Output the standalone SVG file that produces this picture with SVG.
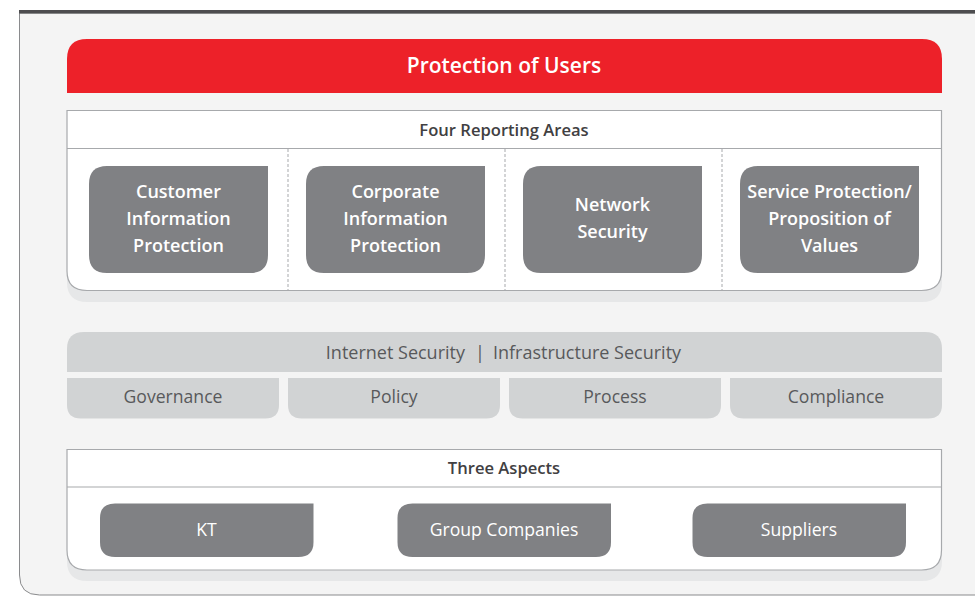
<svg xmlns="http://www.w3.org/2000/svg" width="975" height="596" viewBox="0 0 975 596">
<defs>
<style>
.panel{fill:#f4f4f4;stroke:#8a8b8d;stroke-width:1}
.box{fill:#ffffff;stroke:#a7a9ac;stroke-width:1.2}
.shadow{fill:#e6e7e8}
.div{stroke:#a7a9ac;stroke-width:1;stroke-dasharray:3 2}
.node{fill:#808184}
.band{fill:#d1d3d4}
.nt{font-family:"Open Sans","Liberation Sans",sans-serif;font-size:18px;font-weight:600;fill:#ffffff;text-anchor:middle}
.ht{font-family:"Open Sans","Liberation Sans",sans-serif;font-size:16.6px;font-weight:600;fill:#414042;text-anchor:middle}
.bt{font-family:"Open Sans","Liberation Sans",sans-serif;font-size:17.6px;font-weight:400;fill:#58595b;text-anchor:middle}
.it{font-family:"Open Sans","Liberation Sans",sans-serif;font-size:18px;font-weight:400;fill:#58595b}
.wt{font-family:"Open Sans","Liberation Sans",sans-serif;font-size:17.6px;font-weight:400;fill:#ffffff;text-anchor:middle}
</style>
</defs>
<rect x="0" y="0" width="975" height="596" fill="#ffffff"/>
<g id="panel">
<path class="panel" d="M980 13 L19.5 13 L19.5 575 Q19.5 595 39.5 595 L980 595"/>
<rect x="19" y="10" width="956" height="3.5" fill="#4d4d4f"/>
</g>
<g id="title">
<path d="M67 93 L67 59 Q67 39 87 39 L922 39 Q942 39 942 59 L942 93 Z" fill="#ed2129"/>
<text x="504" y="73" font-family="Open Sans, Liberation Sans, sans-serif" font-size="21" font-weight="600" fill="#ffffff" text-anchor="middle">Protection of Users</text>
</g>
<g id="four-areas">
<path class="shadow" d="M67 120 L942 120 L942 282 Q942 302 922 302 L87 302 Q67 302 67 282 Z"/>
<path class="box" d="M67 110.5 L941.5 110.5 L941.5 271 Q941.5 290.5 921.5 290.5 L87 290.5 Q67 290.5 67 271 Z"/>
<line x1="67" y1="148.5" x2="941.5" y2="148.5" stroke="#a7a9ac" stroke-width="1.2"/>
<text class="ht" x="504" y="136">Four Reporting Areas</text>
</g>
<g id="connectors">
<line class="div" x1="288" y1="149" x2="288" y2="290"/>
<line class="div" x1="505" y1="149" x2="505" y2="290"/>
<line class="div" x1="722" y1="149" x2="722" y2="290"/>
<line class="div" x1="350" y1="487" x2="350" y2="570"/>
<line class="div" x1="658.5" y1="487" x2="658.5" y2="570"/>
</g>
<g id="customer-info">
<path class="node" d="M89 184 Q89 166 107 166 L268 166 L268 255 Q268 273 250 273 L107 273 Q89 273 89 255 Z"/>
<text class="nt" x="178.5" y="198">Customer</text>
<text class="nt" x="178.5" y="225">Information</text>
<text class="nt" x="178.5" y="252">Protection</text>
</g>
<g id="corporate-info">
<path class="node" d="M306 184 Q306 166 324 166 L485 166 L485 255 Q485 273 467 273 L324 273 Q306 273 306 255 Z"/>
<text class="nt" x="395.5" y="198">Corporate</text>
<text class="nt" x="395.5" y="225">Information</text>
<text class="nt" x="395.5" y="252">Protection</text>
</g>
<g id="network-security">
<path class="node" d="M523 184 Q523 166 541 166 L702 166 L702 255 Q702 273 684 273 L541 273 Q523 273 523 255 Z"/>
<text class="nt" x="612.5" y="211">Network</text>
<text class="nt" x="612.5" y="238">Security</text>
</g>
<g id="service-protection">
<path class="node" d="M740 184 Q740 166 758 166 L919 166 L919 255 Q919 273 901 273 L758 273 Q740 273 740 255 Z"/>
<text class="nt" x="829.5" y="198">Service Protection/</text>
<text class="nt" x="829.5" y="225">Proposition of</text>
<text class="nt" x="829.5" y="252">Values</text>
</g>
<g id="internet-security">
<path class="band" d="M67 372 L67 349 Q67 332 84 332 L925 332 Q942 332 942 349 L942 372 Z"/>
<text class="it" x="465" y="359" text-anchor="end">Internet Security</text>
<text class="it" x="480" y="359" text-anchor="middle">|</text>
<text class="it" x="493" y="359" text-anchor="start">Infrastructure Security</text>
</g>
<g id="governance">
<path class="band" d="M67 378 L279 378 L279 405 Q279 418.5 265 418.5 L81 418.5 Q67 418.5 67 405 Z"/>
<text class="bt" x="173" y="403">Governance</text>
</g>
<g id="policy">
<path class="band" d="M288 378 L500 378 L500 405 Q500 418.5 486 418.5 L302 418.5 Q288 418.5 288 405 Z"/>
<text class="bt" x="394" y="403">Policy</text>
</g>
<g id="process">
<path class="band" d="M509 378 L721 378 L721 405 Q721 418.5 707 418.5 L523 418.5 Q509 418.5 509 405 Z"/>
<text class="bt" x="615" y="403">Process</text>
</g>
<g id="compliance">
<path class="band" d="M730 378 L942 378 L942 405 Q942 418.5 928 418.5 L744 418.5 Q730 418.5 730 405 Z"/>
<text class="bt" x="836" y="403">Compliance</text>
</g>
<g id="three-aspects">
<path class="shadow" d="M67 460 L942 460 L942 561 Q942 581 922 581 L87 581 Q67 581 67 561 Z"/>
<path class="box" d="M67 449.5 L941.5 449.5 L941.5 550 Q941.5 570 921.5 570 L87 570 Q67 570 67 550 Z"/>
<line x1="67" y1="487" x2="941.5" y2="487" stroke="#a7a9ac" stroke-width="1.2"/>
<text class="ht" x="504" y="474">Three Aspects</text>
</g>
<g id="kt">
<path class="node" d="M100 518 Q100 503.5 115 503.5 L313.5 503.5 L313.5 542 Q313.5 557 298.5 557 L115 557 Q100 557 100 542 Z"/>
<text class="wt" x="206.5" y="536">KT</text>
</g>
<g id="group-companies">
<path class="node" d="M397.5 518 Q397.5 503.5 412.5 503.5 L611 503.5 L611 542 Q611 557 596 557 L412.5 557 Q397.5 557 397.5 542 Z"/>
<text class="wt" x="504" y="536">Group Companies</text>
</g>
<g id="suppliers">
<path class="node" d="M692.5 518 Q692.5 503.5 707.5 503.5 L906 503.5 L906 542 Q906 557 891 557 L707.5 557 Q692.5 557 692.5 542 Z"/>
<text class="wt" x="799" y="536">Suppliers</text>
</g>
</svg>
